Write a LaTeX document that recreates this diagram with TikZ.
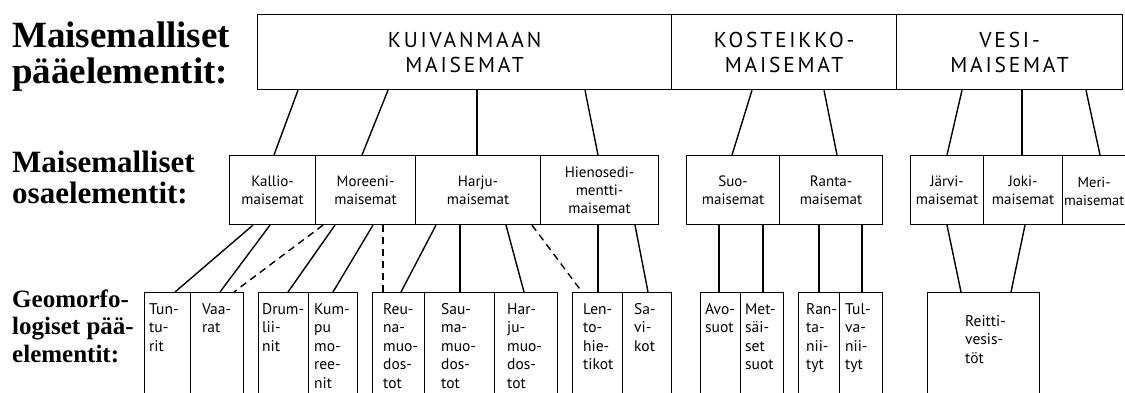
\documentclass[tikz,border=0pt]{standalone}
\usepackage{fontspec}
\setmainfont{Liberation Serif}
\newfontfamily\boxfont{PT Sans}
\newfontfamily\capsfont[LetterSpace=13]{PT Sans}
\usetikzlibrary{calc}

\begin{document}
\begin{tikzpicture}[x=1pt, y=-1pt,
    mainbox/.style={draw, line width=1.2pt, anchor=north west, inner sep=0pt,
        minimum height=75, align=center, font=\capsfont\fontsize{21.5}{25}\selectfont},
    subbox/.style={draw, line width=1.1pt, anchor=north west, inner sep=0pt,
        minimum height=69, align=center, font=\boxfont\fontsize{15}{18}\selectfont},
    geobox/.style={draw, line width=1.1pt, anchor=north west, inner sep=0pt, minimum height=130},
    geotext/.style={anchor=north west, inner sep=0pt, align=left,
        font=\boxfont\fontsize{15.5}{18.5}\selectfont},
    heading/.style={anchor=base west, inner sep=0pt, align=left},
    link/.style={line width=1.4pt},
    weaklink/.style={line width=1.4pt, dash pattern=on 7pt off 5pt}]
    \useasboundingbox (0,0) rectangle (1125,392);
    \clip (0,0) rectangle (1125,392);

    % row titles (base = last line)
    \node[heading, font=\bfseries\fontsize{37}{36}\selectfont] (title1) at (12,83) {Maisemalliset\\pääelementit:};
    \node[heading, font=\bfseries\fontsize{31}{31}\selectfont] (title2) at (12,203) {Maisemalliset\\osaelementit:};
    \node[heading, font=\bfseries\fontsize{25}{27.5}\selectfont] (title3) at (12,362) {Geomorfo-\\logiset pää-\\elementit:};

    % main elements
    \node[mainbox, minimum width=414] (kuivan) at (257,14) {KUIVANMAAN\\MAISEMAT};
    \node[mainbox, minimum width=225] (kosteikko) at (671,14) {KOSTEIKKO-\\MAISEMAT};
    \node[mainbox, minimum width=226] (vesi) at (896,14) {VESI-\\MAISEMAT};

    % sub elements
    \node[subbox, minimum width=86] (kallio) at (229,155) {Kallio-\\maisemat};
    \node[subbox, minimum width=100] (moreeni) at (315,155) {Moreeni-\\maisemat};
    \node[subbox, minimum width=125] (harju) at (415,155) {Harju-\\maisemat};
    \node[subbox, minimum width=118] (hieno) at (540,155) {Hienosedi-\\mentti-\\maisemat};
    \node[subbox, minimum width=93] (suo) at (686,155) {Suo-\\maisemat};
    \node[subbox, minimum width=103] (ranta) at (779,155) {Ranta-\\maisemat};
    \node[subbox, minimum width=73] (jarvi) at (910,155) {Järvi-\\maisemat};
    \node[subbox, minimum width=79] (joki) at (983,155) {Joki-\\maisemat};
    \node[subbox, minimum width=90] (meri) at (1062,155) {};
    \node[subbox, draw=none, minimum height=0pt, font=\boxfont\fontsize{14.5}{18}\selectfont]
        (meri-t) at ($(meri.north west)+(1.5,21.5)$) {Meri-\\maisemat};

    % geomorphological elements
    \node[geobox, minimum width=46] (tunturit) at (144,292) {};
    \node[geobox, minimum width=53] (vaarat) at (190,292) {};
    \node[geobox, minimum width=50] (drumliinit) at (258,292) {};
    \node[geobox, minimum width=49] (kumpu) at (308,292) {};
    \node[geobox, minimum width=52] (reuna) at (372,292) {};
    \node[geobox, minimum width=70] (sauma) at (424,292) {};
    \node[geobox, minimum width=63] (harjumuod) at (494,292) {};
    \node[geobox, minimum width=50] (lento) at (572,292) {};
    \node[geobox, minimum width=49] (savikot) at (622,292) {};
    \node[geobox, minimum width=40] (avosuot) at (700,292) {};
    \node[geobox, minimum width=43] (metsa) at (740,292) {};
    \node[geobox, minimum width=41] (rantan) at (798,292) {};
    \node[geobox, minimum width=43] (tulvan) at (839,292) {};
    \node[geobox, minimum width=112] (reitti) at (927,292) {};

    \node[geotext] (tunturit-t) at ($(tunturit.north west)+(5,11)$) {Tun-\\tu-\\rit};
    \node[geotext] (vaarat-t) at ($(vaarat.north west)+(12,11)$) {Vaa-\\rat};
    \node[geotext] (drumliinit-t) at ($(drumliinit.north west)+(4,11)$) {Drum-\\lii-\\nit};
    \node[geotext] (kumpu-t) at ($(kumpu.north west)+(6,11)$) {Kum-\\pu\\mo-\\ree-\\nit};
    \node[geotext] (reuna-t) at ($(reuna.north west)+(11,11)$) {Reu-\\na-\\muo-\\dos-\\tot};
    \node[geotext] (sauma-t) at ($(sauma.north west)+(17,11)$) {Sau-\\ma-\\muo-\\dos-\\tot};
    \node[geotext] (harjumuod-t) at ($(harjumuod.north west)+(13,11)$) {Har-\\ju-\\muo-\\dos-\\tot};
    \node[geotext] (lento-t) at ($(lento.north west)+(11,11)$) {Len-\\to-\\hie-\\tikot};
    \node[geotext] (savikot-t) at ($(savikot.north west)+(12,11)$) {Sa-\\vi-\\kot};
    \node[geotext] (avosuot-t) at ($(avosuot.north west)+(5,11)$) {Avo-\\suot};
    \node[geotext] (metsa-t) at ($(metsa.north west)+(5,11)$) {Met-\\säi-\\set\\suot};
    \node[geotext] (rantan-t) at ($(rantan.north west)+(8,11)$) {Ran-\\ta-\\nii-\\tyt};
    \node[geotext] (tulvan-t) at ($(tulvan.north west)+(6,11)$) {Tul-\\va-\\nii-\\tyt};
    \node[geotext] (reitti-t) at ($(reitti.north west)+(38,23)$) {Reitti-\\vesis-\\töt};

    % main -> sub
    \draw[link] ($(kuivan.south west)+(41,0)$) -- ($(kallio.north west)+(45,0)$);
    \draw[link] ($(kuivan.south west)+(131,0)$) -- ($(moreeni.north west)+(47,0)$);
    \draw[link] ($(kuivan.south west)+(220,0)$) -- ($(harju.north west)+(62,0)$);
    \draw[link] ($(kuivan.south west)+(328,0)$) -- ($(hieno.north west)+(58,0)$);
    \draw[link] ($(kosteikko.south west)+(81,0)$) -- ($(suo.north west)+(46,0)$);
    \draw[link] ($(kosteikko.south west)+(153,0)$) -- ($(ranta.north west)+(58,0)$);
    \draw[link] ($(vesi.south west)+(66,0)$) -- ($(jarvi.north west)+(37,0)$);
    \draw[link] ($(vesi.south west)+(126,0)$) -- ($(joki.north west)+(39,0)$);
    \draw[link] ($(vesi.south west)+(190,0)$) -- ($(meri.north west)+(38,0)$);

    % sub -> geomorphological
    \draw[link] ($(kallio.south west)+(24,0)$) -- ($(tunturit.north west)+(31,0)$);
    \draw[link] ($(kallio.south west)+(41,0)$) -- ($(vaarat.north west)+(30,0)$);
    \draw[weaklink] ($(moreeni.south west)+(8,0)$) -- ($(vaarat.north west)+(44,0)$);
    \draw[link] ($(moreeni.south west)+(20,0)$) -- ($(drumliinit.north west)+(30,0)$);
    \draw[link] ($(moreeni.south west)+(58,0)$) -- ($(kumpu.north west)+(25,0)$);
    \draw[weaklink] ($(moreeni.south west)+(68,0)$) -- ($(reuna.north west)+(11,0)$);
    \draw[link] ($(harju.south west)+(21,0)$) -- ($(reuna.north west)+(29,0)$);
    \draw[link] ($(harju.south west)+(45,0)$) -- ($(sauma.north west)+(36,0)$);
    \draw[link] ($(harju.south west)+(91,0)$) -- ($(harjumuod.north west)+(30,0)$);
    \draw[weaklink] ($(harju.south west)+(117,0)$) -- ($(lento.north west)+(10,0)$);
    \draw[link] ($(hieno.south west)+(58,0)$) -- ($(lento.north west)+(26,0)$);
    \draw[link] ($(hieno.south west)+(95,0)$) -- ($(savikot.north west)+(26,0)$);
    \draw[link] ($(suo.south west)+(33,0)$) -- ($(avosuot.north west)+(19,0)$);
    \draw[link] ($(suo.south west)+(77,0)$) -- ($(metsa.north west)+(23,0)$);
    \draw[link] ($(ranta.south west)+(40,0)$) -- ($(rantan.north west)+(21,0)$);
    \draw[link] ($(ranta.south west)+(83,0)$) -- ($(tulvan.north west)+(23,0)$);
    \draw[link] ($(jarvi.south west)+(37,0)$) -- ($(reitti.north west)+(34,0)$);
    \draw[link] ($(joki.south west)+(42,0)$) -- ($(reitti.north west)+(84,0)$);
\end{tikzpicture}
\end{document}
